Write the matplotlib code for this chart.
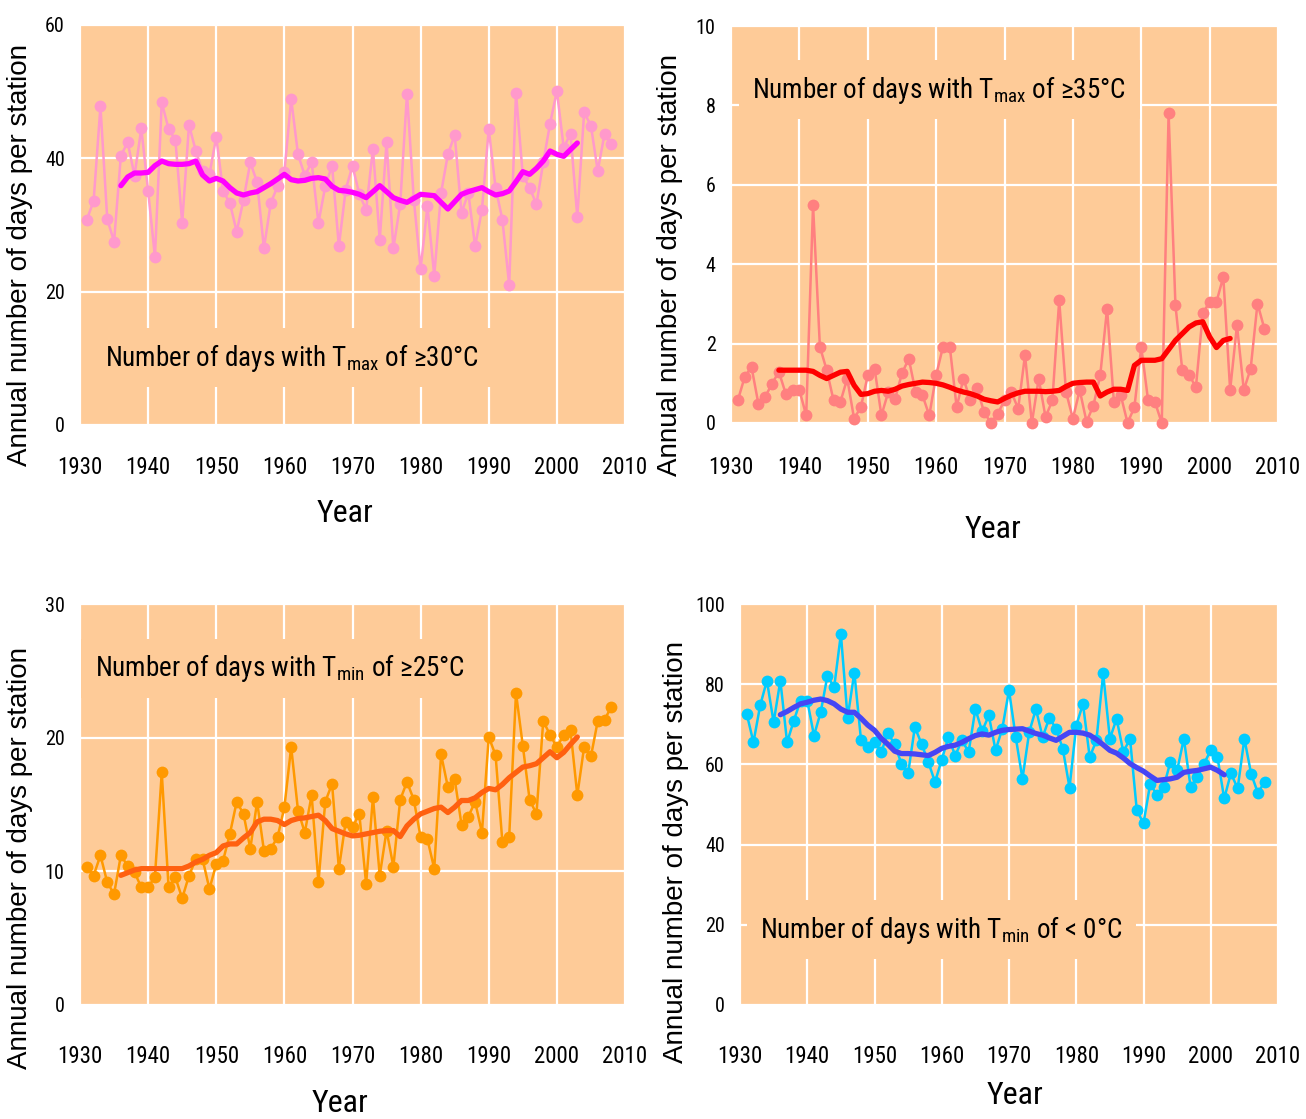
import matplotlib
matplotlib.use("Agg")
import matplotlib.pyplot as plt
from matplotlib import font_manager

# yearly values 1931-2008, 5-yr running means 1936-2003
years = list(range(1931, 2009))

tmax30_days = [30.8, 33.6, 47.8, 30.9, 27.5, 40.4, 42.4, 37.4, 44.5, 35.1,
               25.2, 48.4, 44.4, 42.8, 30.3, 45.0, 41.1, 38.1, 37.6, 43.2,
               35.1, 33.3, 29.0, 33.8, 39.4, 36.4, 26.5, 33.3, 35.8, 37.9,
               48.9, 40.6, 37.4, 39.4, 30.3, 35.8, 38.9, 26.8, 35.3, 38.9,
               34.6, 32.3, 41.4, 27.8, 42.4, 26.5, 33.1, 49.7, 33.8, 23.4,
               32.8, 22.4, 34.8, 40.6, 43.5, 31.8, 34.8, 26.8, 32.3, 44.4,
               35.6, 30.8, 21.0, 49.8, 37.4, 35.6, 33.1, 39.4, 45.2, 50.1,
               41.6, 43.7, 31.2, 46.9, 44.9, 38.1, 43.7, 42.1]
tmax30_smooth_years = list(range(1936, 2004))
tmax30_smooth = [35.9, 37.2, 37.8, 37.8, 37.9, 38.9, 39.6, 39.2, 39.1, 39.1,
                 39.2, 39.6, 37.5, 36.6, 37.0, 36.6, 35.6, 34.8, 34.5, 34.8,
                 35.0, 35.6, 36.2, 36.9, 37.6, 36.8, 36.6, 36.7, 37.0, 37.1,
                 36.9, 35.8, 35.2, 35.1, 34.9, 34.6, 34.1, 35.0, 35.9, 35.0,
                 34.1, 33.7, 33.4, 34.0, 34.6, 34.5, 34.4, 33.4, 32.4, 33.5,
                 34.6, 35.0, 35.3, 35.6, 35.0, 34.5, 34.7, 35.1, 36.5, 38.0,
                 37.6, 38.5, 39.6, 41.1, 40.6, 40.3, 41.3, 42.3]

tmax35_days = [0.57, 1.16, 1.41, 0.49, 0.66, 0.99, 1.29, 0.74, 0.83, 0.83,
               0.19, 5.49, 1.92, 1.33, 0.57, 0.53, 1.12, 0.11, 0.40, 1.20,
               1.37, 0.19, 0.78, 0.61, 1.25, 1.62, 0.78, 0.70, 0.19, 1.20,
               1.92, 1.92, 0.40, 1.12, 0.57, 0.87, 0.28, 0.00, 0.23, 0.57,
               0.78, 0.36, 1.71, 0.00, 1.12, 0.15, 0.57, 3.09, 0.78, 0.11,
               0.83, 0.03, 0.44, 1.20, 2.88, 0.53, 0.70, 0.00, 0.40, 1.92,
               0.57, 0.53, 0.00, 7.80, 2.97, 1.33, 1.20, 0.91, 2.76, 3.05,
               3.05, 3.68, 0.83, 2.46, 0.83, 1.37, 3.01, 2.38]
tmax35_smooth_years = list(range(1937, 2004))
tmax35_smooth = [1.33, 1.33, 1.33, 1.33, 1.33, 1.30, 1.20, 1.12, 1.20, 1.28,
                 1.30, 0.95, 0.72, 0.74, 0.80, 0.82, 0.80, 0.85, 0.93, 0.97,
                 1.00, 1.03, 1.02, 1.00, 0.96, 0.90, 0.83, 0.78, 0.74, 0.68,
                 0.60, 0.56, 0.53, 0.62, 0.70, 0.76, 0.80, 0.80, 0.80, 0.79,
                 0.80, 0.82, 0.92, 1.00, 1.02, 1.03, 1.03, 0.68, 0.78, 0.85,
                 0.85, 0.82, 1.45, 1.58, 1.58, 1.58, 1.62, 1.85, 2.08, 2.25,
                 2.42, 2.52, 2.55, 2.17, 1.90, 2.08, 2.13]

tmin25_days = [10.3, 9.68, 11.2, 9.18, 8.3, 11.2, 10.4, 9.93, 8.8, 8.8,
               9.6, 17.4, 8.8, 9.55, 7.98, 9.68, 10.9, 10.9, 8.68, 10.55,
               10.8, 12.8, 15.2, 14.3, 11.7, 15.2, 11.55, 11.7, 12.55, 14.8,
               19.3, 14.55, 12.9, 15.7, 9.18, 15.2, 16.55, 10.2, 13.7, 13.3,
               14.3, 9.05, 15.55, 9.68, 13.05, 10.35, 15.35, 16.7, 15.35, 12.55,
               12.4, 10.2, 18.75, 16.3, 16.9, 13.5, 14.1, 15.2, 12.9, 20.05,
               18.7, 12.2, 12.6, 23.35, 19.4, 15.35, 14.3, 21.25, 20.2, 19.3,
               20.2, 20.55, 15.7, 19.3, 18.6, 21.25, 21.35, 22.3]
tmin25_smooth_years = list(range(1936, 2004))
tmin25_smooth = [9.7, 9.9, 10.1, 10.2, 10.2, 10.2, 10.2, 10.2, 10.2, 10.2,
                 10.4, 10.7, 10.9, 11.2, 11.4, 11.9, 12.05, 12.05, 12.5, 12.9,
                 13.7, 13.9, 13.9, 13.8, 13.5, 13.8, 13.95, 14.0, 14.1, 14.2,
                 13.8, 13.2, 13.0, 12.8, 12.65, 12.7, 12.8, 12.9, 13.0, 13.05,
                 13.05, 12.6, 13.4, 13.9, 14.3, 14.5, 14.7, 14.8, 14.4, 14.8,
                 15.3, 15.3, 15.5, 15.9, 16.2, 16.1, 16.5, 17.0, 17.4, 17.8,
                 17.9, 18.05, 18.5, 18.95, 18.5, 18.9, 19.5, 20.05]

tmin0_days = [72.6, 65.5, 74.7, 80.9, 70.5, 80.9, 65.5, 70.9, 75.9, 75.9,
              67.2, 73.0, 82.1, 79.2, 92.5, 71.6, 82.9, 66.0, 64.3, 65.5,
              63.1, 67.8, 65.0, 60.2, 57.8, 69.3, 65.1, 60.6, 55.6, 61.2,
              66.8, 62.2, 66.0, 63.1, 73.8, 68.3, 72.2, 63.5, 68.9, 78.5,
              66.8, 56.4, 68.0, 73.8, 66.8, 71.6, 68.9, 63.9, 54.2, 69.7,
              75.1, 61.8, 66.0, 82.7, 66.4, 71.4, 63.1, 66.4, 48.6, 45.3,
              55.2, 52.3, 54.4, 60.6, 58.5, 66.4, 54.4, 56.8, 60.2, 63.5,
              61.8, 51.5, 57.8, 54.0, 66.4, 57.7, 52.9, 55.6]
tmin0_smooth_years = list(range(1936, 2003))
tmin0_smooth = [72.4, 73.2, 74.2, 75.1, 75.5, 76.0, 76.3, 75.9, 75.1, 73.8,
                73.0, 73.0, 71.5, 69.8, 68.5, 66.5, 65.0, 63.3, 62.7, 62.7,
                62.6, 62.4, 62.2, 63.0, 64.0, 64.5, 64.8, 65.5, 66.4, 67.2,
                67.6, 67.3, 68.0, 68.5, 68.7, 68.8, 68.9, 68.3, 67.7, 67.3,
                66.6, 66.0, 67.0, 68.0, 68.0, 67.8, 67.3, 66.2, 64.9, 63.5,
                62.8, 61.6, 60.2, 59.2, 58.3, 57.1, 56.0, 56.2, 56.4, 56.8,
                58.0, 58.3, 58.5, 58.9, 59.3, 58.5, 57.4]

xticks = list(range(1930, 2011, 10))

installed = {f.name for f in font_manager.fontManager.ttflist}
narrow = next((f for f in ["Liberation Sans Narrow", "Arial Narrow", "Roboto Condensed"]
               if f in installed), "Liberation Sans")
regular = "Liberation Sans" if "Liberation Sans" in installed else "DejaVu Sans"
plt.rcParams["mathtext.fontset"] = "custom"
plt.rcParams["mathtext.rm"] = narrow

BG = "#FECB98"
W, H = 1306, 1119

fig = plt.figure(figsize=(W / 100, H / 100), dpi=100)

panels = [
    # box = left, top, right, bottom in px
    dict(box=(80, 25, 625, 425), ylim=(0, 60), yticks=[0, 20, 40, 60],
         raw=tmax30_days, sy=tmax30_smooth_years, sm=tmax30_smooth,
         pc="#FF99CC", lc="#FF00FF",
         txt="Number of days with T$_{\\mathrm{max}}$ of ≥30°C", tpos=(1933.6, 10.1),
         xpad=22, ylab=(20, 255), xlab=(345, 513)),
    dict(box=(731, 26, 1278, 423), ylim=(0, 10), yticks=[0, 2, 4, 6, 8, 10],
         raw=tmax35_days, sy=tmax35_smooth_years, sm=tmax35_smooth,
         pc="#FF8080", lc="#FF0000",
         txt="Number of days with T$_{\\mathrm{max}}$ of ≥35°C", tpos=(1933.1, 8.39),
         xpad=24, ylab=(670, 265), xlab=(993, 530)),
    dict(box=(80, 604, 625, 1005), ylim=(0, 30), yticks=[0, 10, 20, 30],
         raw=tmin25_days, sy=tmin25_smooth_years, sm=tmin25_smooth,
         pc="#FF9900", lc="#FF6010",
         txt="Number of days with T$_{\\mathrm{min}}$ of ≥25°C", tpos=(1932.2, 25.2),
         xpad=29, ylab=(20, 858), xlab=(340, 1104)),
    dict(box=(740, 604, 1278, 1005), ylim=(0, 100), yticks=[0, 20, 40, 60, 80, 100],
         raw=tmin0_days, sy=tmin0_smooth_years, sm=tmin0_smooth,
         pc="#00CCFF", lc="#4545F5",
         txt="Number of days with T$_{\\mathrm{min}}$ of < 0°C", tpos=(1933.0, 18.8),
         xpad=29, ylab=(676, 852), xlab=(1015, 1095)),
]

for p in panels:
    l, t, r, b = p["box"]
    ax = fig.add_axes([l / W, 1 - b / H, (r - l) / W, (b - t) / H])
    ax.set_facecolor(BG)
    ax.set_xlim(1930, 2010)
    ax.set_ylim(*p["ylim"])
    ax.set_xticks(xticks)
    ax.set_yticks(p["yticks"])
    ax.set_axisbelow(True)
    ax.grid(True, color="white", linewidth=1.6)
    for s in ax.spines.values():
        s.set_visible(False)
    ax.tick_params(length=0)
    ax.tick_params(axis="x", pad=p["xpad"], labelsize=16.5)
    ax.tick_params(axis="y", pad=11, labelsize=14.5)
    for lab in ax.get_xticklabels() + ax.get_yticklabels():
        lab.set_fontfamily(narrow)

    ax.plot(years, p["raw"], color=p["pc"], linewidth=1.8, marker="o",
            markersize=8.5, markeredgewidth=0, clip_on=False, zorder=3)
    ax.plot(p["sy"], p["sm"], color=p["lc"], linewidth=3.8,
            solid_capstyle="round", zorder=4)

    ax.text(p["tpos"][0], p["tpos"][1], p["txt"], fontsize=19.5, family=narrow,
            ha="left", va="center", zorder=2.5,
            bbox=dict(boxstyle="square,pad=0.5", fc=BG, ec="none"))

    ax.set_ylabel("Annual number of days per station", fontsize=20,
                  family=regular, va="center", ha="center")
    ax.yaxis.set_label_coords((p["ylab"][0] - l) / (r - l), (b - p["ylab"][1]) / (b - t))
    ax.set_xlabel("Year", fontsize=23, family=narrow, va="center", ha="center")
    ax.xaxis.set_label_coords((p["xlab"][0] - l) / (r - l), (b - p["xlab"][1]) / (b - t))

fig.savefig("out.png", dpi=100, facecolor="white")
